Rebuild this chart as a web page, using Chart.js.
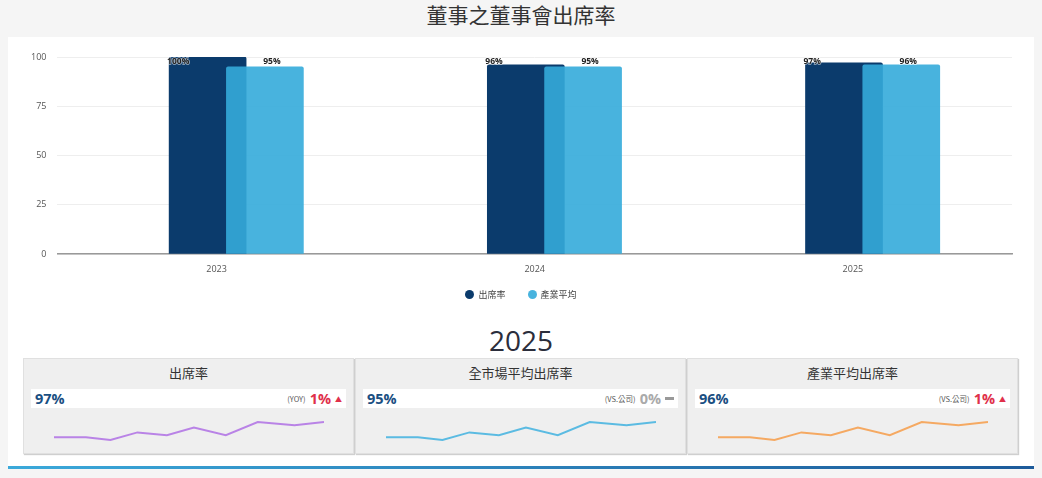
<!DOCTYPE html>
<html>
<head>
<meta charset="utf-8">
<script src="https://cdn.jsdelivr.net/npm/chart.js@4"></script>
<style>
  body { margin: 0; width: 1042px; height: 478px; background: #f5f5f5; position: relative; overflow: hidden; font-family: "Noto Sans CJK TC", "Open Sans", sans-serif; }
  #titre { position: absolute; left: 0; top: 0; width: 1042px; height: 28px; line-height: 28px; text-align: center; font-size: 21px; color: #333; }
  #panel { position: absolute; left: 8px; top: 37px; width: 1026px; height: 430px; background: #fff; }
  #mainBox { position: absolute; left: 8px; top: 37px; width: 1026px; height: 275px; }
  #legende { position: absolute; left: 0; top: 286px; width: 1042px; height: 16px; display: flex; justify-content: center; align-items: center; font-size: 9px; color: #444; }
  #legende .item { display: flex; align-items: center; margin: 0 11px; }
  #legende .dot { width: 9px; height: 9px; border-radius: 50%; margin-right: 4px; }
  #annee { position: absolute; left: 0; top: 322px; width: 1042px; height: 36px; line-height: 36px; text-align: center; font-family: "Open Sans"; font-size: 28px; color: #2b2d3b; }
  .card { position: absolute; top: 358px; width: 329px; height: 94px; background: #efefef; border: 1px solid #e0e0e0; box-shadow: 1px 1px 1px #cfcfcf; }
  .card h3 { margin: 0; position: absolute; left: 0; top: 4px; width: 100%; height: 20px; line-height: 20px; text-align: center; font-size: 13px; font-weight: normal; color: #333; }
  .ligne { position: absolute; left: 7px; right: 7px; top: 30px; height: 19px; background: #fff; display: flex; align-items: center; justify-content: space-between; padding: 0 4px; box-sizing: border-box; }
  .val { font-family: "Open Sans"; font-weight: bold; font-size: 14.5px; color: #1a4f82; }
  .droite { display: flex; align-items: center; }
  .petit { font-size: 7.5px; color: #555; margin-right: 4px; }
  .pct { font-family: "Open Sans"; font-weight: bold; font-size: 14.5px; color: #e0304a; }
  .pct.gris { color: #aaa; }
  .fleche { font-size: 7px; color: #e0304a; margin-left: 4px; }
  .tiret { display: inline-block; width: 9px; height: 2.5px; background: #999; margin-left: 4px; }
  .spark { position: absolute; left: 7px; top: 51px; width: 316px; height: 40px; }
  #barre { position: absolute; left: 8px; top: 466px; width: 1026px; height: 3px; background: linear-gradient(to right, #3ba9da, #1c5a9a); }
</style>
</head>
<body>
<div id="titre">董事之董事會出席率</div>
<div id="panel"></div>
<div id="mainBox"><canvas id="myChart"></canvas></div>
<div id="legende"></div>
<div id="annee">2025</div>

<div class="card" style="left:23px">
  <h3>出席率</h3>
  <div class="ligne"><span class="val">97%</span><span class="droite"><span class="petit">(YOY)</span><span class="pct">1%</span><span class="fleche">▲</span></span></div>
  <div class="spark"><canvas id="spark1"></canvas></div>
</div>
<div class="card" style="left:355px">
  <h3>全市場平均出席率</h3>
  <div class="ligne"><span class="val">95%</span><span class="droite"><span class="petit">(VS.公司)</span><span class="pct gris">0%</span><span class="tiret"></span></span></div>
  <div class="spark"><canvas id="spark2"></canvas></div>
</div>
<div class="card" style="left:687px">
  <h3>產業平均出席率</h3>
  <div class="ligne"><span class="val">96%</span><span class="droite"><span class="petit">(VS.公司)</span><span class="pct">1%</span><span class="fleche">▲</span></span></div>
  <div class="spark"><canvas id="spark3"></canvas></div>
</div>
<div id="barre"></div>

<script>
// donnees du graphique principal
const years = [2023, 2024, 2025];
const tauxPresence = [100, 96, 97]; // 出席率
const moyenneSecteur = [95, 95, 96]; // 產業平均

// donnees des petites courbes (meme forme sur les 3 cartes)
const sparkX = [0, 13, 23, 34, 46, 57, 70, 83, 98, 110];
const sparkPresence = [93.2, 93.2, 92.5, 94.4, 93.7, 95.6, 93.7, 97, 96.2, 97];
const sparkMarche = [93.2, 93.2, 92.5, 94.4, 93.7, 95.6, 93.7, 97, 96.2, 97];
const sparkSecteur = [93.2, 93.2, 92.5, 94.4, 93.7, 95.6, 93.7, 97, 96.2, 97];

const tickFont = { family: "Open Sans", size: 9 };

// pourcentages au dessus des barres
const barLabels = {
  id: "barLabels",
  afterDatasetsDraw(chart) {
    const ctx = chart.ctx;
    ctx.save();
    ctx.font = 'bold 8.5px "Open Sans"';
    ctx.fillStyle = "#222";
    ctx.strokeStyle = "rgba(255,255,255,0.6)";
    ctx.lineWidth = 1.5;
    ctx.textBaseline = "middle";
    chart.data.datasets.forEach((ds, di) => {
      chart.getDatasetMeta(di).data.forEach((bar, i) => {
        const txt = ds.data[i].y + "%";
        let x;
        if (di === 0) {
          ctx.textAlign = "left";
          x = bar.x - bar.width / 2 - 2;
        } else {
          ctx.textAlign = "center";
          x = bar.x + 7;
        }
        ctx.strokeText(txt, x, chart.chartArea.top + 5);
        ctx.fillText(txt, x, chart.chartArea.top + 5);
      });
    });
    ctx.restore();
  },
};

const data = {
  labels: years.map(String),
  datasets: [
    {
      label: "出席率",
      data: years.map((y, i) => ({ x: y, y: tauxPresence[i] })),
      backgroundColor: "#0b3b6c",
      borderRadius: 2,
      barThickness: 77,
      grouped: false,
      xAxisID: "xa",
      order: 1,
    },
    {
      label: "產業平均",
      data: years.map((y, i) => ({ x: y, y: moyenneSecteur[i] })),
      backgroundColor: "rgba(52,171,218,0.9)",
      borderRadius: 2,
      barThickness: 77,
      grouped: false,
      xAxisID: "xb",
      order: 0, // dessine au dessus
    },
  ],
};

const config = {
  type: "bar",
  data: data,
  options: {
    responsive: true,
    maintainAspectRatio: false,
    animation: false,
    layout: { padding: { top: 20, left: 12, right: 22, bottom: 28 } },
    plugins: {
      legend: { display: false },
      tooltip: { enabled: false },
    },
    scales: {
      x: {
        type: "category",
        grid: { display: false, drawTicks: false },
        border: { color: "#999", width: 1.5 },
        ticks: { padding: 9.6, color: "#555", font: tickFont },
      },
      xa: { type: "linear", axis: "x", display: false, offset: false, min: years[0] - 0.5 + 0.028, max: years[years.length - 1] + 0.5 + 0.028 },
      xb: { type: "linear", axis: "x", display: false, offset: false, min: years[0] - 0.5 - 0.152, max: years[years.length - 1] + 0.5 - 0.152 },
      y: {
        min: 0,
        max: 100,
        ticks: { stepSize: 25, padding: 11, color: "#555", font: tickFont },
        grid: { color: "#eeeeee", drawTicks: false },
        border: { display: false },
      },
    },
  },
  plugins: [barLabels],
};

let context = document.getElementById("myChart").getContext("2d");
let chart = new Chart(context, config);

// legende en html a partir des datasets
let legende = document.getElementById("legende");
chart.data.datasets.forEach((ds) => {
  legende.innerHTML += `<span class="item"><span class="dot" style="background:${ds.backgroundColor}"></span>${ds.label}</span>`;
});

// petites courbes des cartes
function makeSpark(id, values, couleur) {
  return new Chart(document.getElementById(id), {
    type: "line",
    data: {
      datasets: [
        {
          data: sparkX.map((x, i) => ({ x: x, y: values[i] })),
          borderColor: couleur,
          borderWidth: 2,
          pointRadius: 0,
          tension: 0,
        },
      ],
    },
    options: {
      responsive: true,
      maintainAspectRatio: false,
      animation: false,
      layout: { padding: { left: 23, right: 23 } },
      plugins: { legend: false, tooltip: { enabled: false } },
      scales: {
        x: { type: "linear", display: false, min: sparkX[0], max: sparkX[sparkX.length - 1] },
        y: { display: false, min: 90, max: 100 },
      },
    },
  });
}

makeSpark("spark1", sparkPresence, "#b983e6");
makeSpark("spark2", sparkMarche, "#5bbbe2");
makeSpark("spark3", sparkSecteur, "#f5a962");
</script>
</body>
</html>
